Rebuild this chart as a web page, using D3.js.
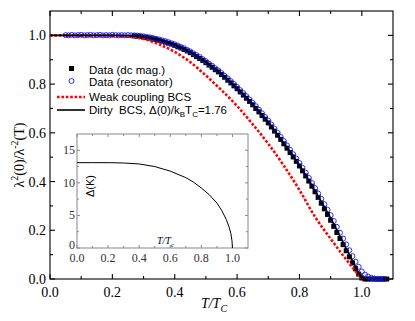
<!DOCTYPE html>
<html>
<head>
<meta charset="utf-8">
<script src="https://cdn.jsdelivr.net/npm/d3@7"></script>
<style>
  body { margin: 0; background: #fff; }
  svg { display: block; }
  .tick-label { font-family: "Liberation Serif", "Times New Roman", serif; }
  .legend { font-family: "Liberation Sans", Arial, sans-serif; font-size: 11.5px; }
</style>
</head>
<body>
<div id="chart"></div>
<script>
// Superfluid density vs reduced temperature

// main axes ticks
const xTicks = [0.0, 0.2, 0.4, 0.6, 0.8, 1.0];
const yTicks = [0.0, 0.2, 0.4, 0.6, 0.8, 1.0];

// dirty BCS curve [T/Tc, rho]
const dirtyBCS = [
  [0.00, 1.000], [0.10, 1.000], [0.20, 1.000], [0.25, 0.999], [0.30, 0.993],
  [0.35, 0.981], [0.40, 0.960], [0.45, 0.930], [0.50, 0.889], [0.55, 0.840],
  [0.60, 0.782], [0.65, 0.716], [0.70, 0.642], [0.75, 0.556], [0.80, 0.466],
  [0.85, 0.362], [0.90, 0.250], [0.95, 0.125], [0.98, 0.050], [1.00, 0.000]
];

// weak coupling (clean) BCS curve
const weakBCS = [
  [0.00, 1.000], [0.10, 1.000], [0.20, 0.999], [0.25, 0.996], [0.30, 0.985],
  [0.35, 0.963], [0.40, 0.932], [0.45, 0.890], [0.50, 0.835], [0.55, 0.775],
  [0.60, 0.710], [0.65, 0.635], [0.70, 0.555], [0.75, 0.465], [0.80, 0.365],
  [0.85, 0.255], [0.90, 0.165], [0.95, 0.080], [1.00, 0.000]
];

// Data (dc mag.)
const dcMag = [
  [0.27, 0.998], [0.28, 0.997], [0.29, 0.995], [0.30, 0.993], [0.31, 0.991],
  [0.32, 0.989], [0.33, 0.986], [0.34, 0.983], [0.35, 0.980], [0.36, 0.976],
  [0.37, 0.972], [0.38, 0.968], [0.39, 0.964], [0.40, 0.959], [0.41, 0.953],
  [0.42, 0.948], [0.43, 0.942], [0.44, 0.936], [0.45, 0.929], [0.46, 0.921],
  [0.47, 0.913], [0.48, 0.905], [0.49, 0.897], [0.50, 0.888], [0.51, 0.878],
  [0.52, 0.869], [0.53, 0.859], [0.54, 0.850], [0.55, 0.839], [0.56, 0.828],
  [0.57, 0.816], [0.58, 0.805], [0.59, 0.793], [0.60, 0.781], [0.61, 0.768],
  [0.62, 0.755], [0.63, 0.742], [0.64, 0.729], [0.65, 0.715], [0.66, 0.700],
  [0.67, 0.686], [0.68, 0.671], [0.69, 0.656], [0.70, 0.641], [0.71, 0.624],
  [0.72, 0.607], [0.73, 0.590], [0.74, 0.573], [0.75, 0.555], [0.76, 0.537],
  [0.77, 0.519], [0.78, 0.501], [0.79, 0.483], [0.80, 0.464], [0.81, 0.444],
  [0.82, 0.423], [0.83, 0.402], [0.84, 0.381], [0.85, 0.358], [0.86, 0.335],
  [0.87, 0.311], [0.88, 0.288], [0.89, 0.265], [0.90, 0.241], [0.91, 0.216],
  [0.92, 0.191], [0.93, 0.166], [0.94, 0.141], [0.95, 0.116], [0.96, 0.091],
  [0.97, 0.066], [0.98, 0.042], [0.99, 0.020], [1.00, 0.004], [1.01, 0.000],
  [1.02, 0.000], [1.03, 0.000], [1.04, 0.000], [1.05, 0.000], [1.06, 0.000],
  [1.07, 0.000], [1.08, 0.000]
];

// Data (resonator)
const resonator = [
  [0.05, 1.001], [0.06, 1.000], [0.07, 1.002], [0.08, 1.000], [0.09, 1.001],
  [0.10, 1.002], [0.11, 1.000], [0.12, 1.001], [0.13, 1.002], [0.14, 1.000],
  [0.15, 1.001], [0.16, 1.002], [0.17, 1.000], [0.18, 1.001], [0.19, 1.000],
  [0.20, 1.002], [0.21, 1.001], [0.22, 1.000], [0.23, 1.001], [0.24, 1.000],
  [0.25, 1.001], [0.26, 1.000], [0.27, 1.000], [0.28, 0.999], [0.29, 0.998],
  [0.30, 0.996], [0.31, 0.994], [0.32, 0.992], [0.33, 0.989], [0.34, 0.986],
  [0.35, 0.983], [0.36, 0.979], [0.37, 0.976], [0.38, 0.972], [0.39, 0.967],
  [0.40, 0.963], [0.41, 0.958], [0.42, 0.952], [0.43, 0.947], [0.44, 0.940],
  [0.45, 0.934], [0.46, 0.926], [0.47, 0.919], [0.48, 0.911], [0.49, 0.902],
  [0.50, 0.894], [0.51, 0.884], [0.52, 0.875], [0.53, 0.865], [0.54, 0.856],
  [0.55, 0.845], [0.56, 0.834], [0.57, 0.823], [0.58, 0.812], [0.59, 0.800],
  [0.60, 0.788], [0.61, 0.775], [0.62, 0.763], [0.63, 0.750], [0.64, 0.737],
  [0.65, 0.723], [0.66, 0.709], [0.67, 0.695], [0.68, 0.680], [0.69, 0.665],
  [0.70, 0.650], [0.71, 0.634], [0.72, 0.617], [0.73, 0.600], [0.74, 0.583],
  [0.75, 0.566], [0.76, 0.548], [0.77, 0.530], [0.78, 0.512], [0.79, 0.494],
  [0.80, 0.476], [0.81, 0.456], [0.82, 0.436], [0.83, 0.415], [0.84, 0.394],
  [0.85, 0.373], [0.86, 0.351], [0.87, 0.329], [0.88, 0.307], [0.89, 0.284],
  [0.90, 0.262], [0.91, 0.238], [0.92, 0.214], [0.93, 0.190], [0.94, 0.166],
  [0.95, 0.142], [0.96, 0.118], [0.97, 0.094], [0.98, 0.071], [0.99, 0.050],
  [1.00, 0.031], [1.01, 0.018], [1.02, 0.010], [1.03, 0.005], [1.04, 0.002],
  [1.05, 0.001], [1.06, 0.000], [1.07, 0.000]
];

// inset: gap Delta(K) vs T/Tc
const insetXTicks = [0.0, 0.2, 0.4, 0.6, 0.8, 1.0];
const insetYTicks = [0, 5, 10, 15];
const gapCurve = [
  [0.00, 13.10], [0.10, 13.10], [0.20, 13.10], [0.30, 13.05], [0.40, 12.90],
  [0.50, 12.50], [0.60, 11.80], [0.70, 10.80], [0.75, 10.10], [0.80, 9.20],
  [0.85, 8.20], [0.90, 6.90], [0.93, 5.80], [0.96, 4.40], [0.98, 3.10],
  [0.99, 2.20], [0.997, 1.10], [1.00, 0.00]
];

const W = 415, H = 321;
const svg = d3.select('#chart').append('svg')
  .attr('width', W).attr('height', H);

// main plot frame
const P = {left: 50, right: 393, top: 11, bottom: 279};
const x = d3.scaleLinear().domain([0, 1.1]).range([P.left, P.right]);
const y = d3.scaleLinear().domain([0, 1.1]).range([P.bottom, P.top]);

// draw inward ticks on all four sides
function frameTicks(g, xs, ys, xMajor, xMinor, yMajor, yMinor, box, majLen, minLen, color, width) {
  const add = (x1, y1, x2, y2) => g.append('line')
    .attr('x1', x1).attr('y1', y1).attr('x2', x2).attr('y2', y2)
    .attr('stroke', color).attr('stroke-width', width);
  xMinor.forEach(v => { add(xs(v), box.bottom, xs(v), box.bottom - minLen); add(xs(v), box.top, xs(v), box.top + minLen); });
  xMajor.forEach(v => { add(xs(v), box.bottom, xs(v), box.bottom - majLen); add(xs(v), box.top, xs(v), box.top + majLen); });
  yMinor.forEach(v => { add(box.left, ys(v), box.left + minLen, ys(v)); add(box.right, ys(v), box.right - minLen, ys(v)); });
  yMajor.forEach(v => { add(box.left, ys(v), box.left + majLen, ys(v)); add(box.right, ys(v), box.right - majLen, ys(v)); });
  g.append('rect')
    .attr('x', box.left).attr('y', box.top)
    .attr('width', box.right - box.left).attr('height', box.bottom - box.top)
    .attr('fill', 'none').attr('stroke', color).attr('stroke-width', width);
}

const mainAxes = svg.append('g');
frameTicks(mainAxes, x, y, xTicks, [0.1, 0.3, 0.5, 0.7, 0.9], yTicks, [0.1, 0.3, 0.5, 0.7, 0.9], P, 5, 3, '#000', 1.1);

mainAxes.selectAll('.xl').data(xTicks).enter().append('text')
  .attr('class', 'tick-label')
  .attr('x', d => x(d)).attr('y', P.bottom + 18)
  .attr('text-anchor', 'middle').style('font-size', '14px')
  .text(d => d.toFixed(1));

mainAxes.selectAll('.yl').data(yTicks).enter().append('text')
  .attr('class', 'tick-label')
  .attr('x', P.left - 4).attr('y', d => y(d) + 5)
  .attr('text-anchor', 'end').style('font-size', '14px')
  .text(d => d.toFixed(1));

// axis titles
const xTitle = svg.append('text')
  .attr('class', 'tick-label')
  .attr('x', 214).attr('y', 308)
  .attr('text-anchor', 'middle')
  .style('font-size', '14px').style('font-style', 'italic');
xTitle.append('tspan').text('T/T');
xTitle.append('tspan').attr('dy', 4).style('font-size', '10px').text('C');

const yTitle = svg.append('text')
  .attr('class', 'tick-label')
  .attr('transform', 'translate(24,155) rotate(-90)')
  .attr('text-anchor', 'middle')
  .style('font-size', '14px');
yTitle.append('tspan').text('λ');
yTitle.append('tspan').attr('dy', -6).style('font-size', '10px').text('2');
yTitle.append('tspan').attr('dy', 6).text('(0)/λ');
yTitle.append('tspan').attr('dy', -6).style('font-size', '10px').text('-2');
yTitle.append('tspan').attr('dy', 6).text('(T)');

// inset
const I = {left: 77, right: 248, top: 134, bottom: 248};
const ix = d3.scaleLinear().domain([0, 1.1]).range([I.left, I.right]);
const iy = d3.scaleLinear().domain([0, 17.5]).range([I.bottom, I.top]);

const inset = svg.append('g');
inset.append('rect')
  .attr('x', I.left).attr('y', I.top)
  .attr('width', I.right - I.left).attr('height', I.bottom - I.top)
  .attr('fill', '#fff');
frameTicks(inset, ix, iy, insetXTicks, [0.1, 0.3, 0.5, 0.7, 0.9], insetYTicks, [2.5, 7.5, 12.5], I, 3, 2, '#888', 1);

inset.selectAll('.ixl').data(insetXTicks).enter().append('text')
  .attr('class', 'tick-label')
  .attr('x', d => ix(d)).attr('y', I.bottom + 14)
  .attr('text-anchor', 'middle').style('font-size', '12px').attr('fill', '#333')
  .text(d => d.toFixed(1));

inset.selectAll('.iyl').data(insetYTicks).enter().append('text')
  .attr('class', 'tick-label')
  .attr('x', I.left - 2).attr('y', d => iy(d) + (d === 0 ? 1 : 4))
  .attr('text-anchor', 'end').style('font-size', '12px').attr('fill', '#333')
  .text(d => d);

inset.append('text')
  .attr('transform', 'translate(94,186) rotate(-90)')
  .attr('text-anchor', 'middle')
  .style('font-family', '"Liberation Sans", Arial, sans-serif')
  .style('font-size', '11px')
  .text('Δ(K)');

const iTitle = inset.append('text')
  .attr('class', 'tick-label')
  .attr('x', 157).attr('y', 244)
  .style('font-size', '10px').style('font-style', 'italic');
iTitle.append('tspan').text('T/T');
iTitle.append('tspan').attr('dy', 3).style('font-size', '7px').text('c');

inset.append('path')
  .datum(gapCurve)
  .attr('d', d3.line().x(d => ix(d[0])).y(d => iy(d[1])))
  .attr('fill', 'none').attr('stroke', '#000').attr('stroke-width', 1);

// data markers
const marks = svg.append('g');
marks.selectAll('.sq').data(dcMag).enter().append('rect')
  .attr('x', d => x(d[0]) - 2.5).attr('y', d => y(d[1]) - 2.5)
  .attr('width', 5).attr('height', 5)
  .attr('fill', '#000');

marks.selectAll('.ci').data(resonator).enter().append('circle')
  .attr('cx', d => x(d[0])).attr('cy', d => y(d[1]))
  .attr('r', 2.5)
  .attr('fill', 'none').attr('stroke', '#1a1aff').attr('stroke-width', 0.9);

// model curves
const line = d3.line().x(d => x(d[0])).y(d => y(d[1])).curve(d3.curveMonotoneX);
svg.append('path').datum(weakBCS)
  .attr('d', line)
  .attr('fill', 'none').attr('stroke', '#ff0000')
  .attr('stroke-width', 2.6).attr('stroke-dasharray', '2.6,1.8');
svg.append('path').datum(dirtyBCS)
  .attr('d', line)
  .attr('fill', 'none').attr('stroke', '#000').attr('stroke-width', 1.6);

// legend
const lg = svg.append('g').attr('class', 'legend');
lg.append('rect').attr('x', 69).attr('y', 66).attr('width', 5).attr('height', 5).attr('fill', '#000');
lg.append('text').attr('x', 89).attr('y', 74).text('Data (dc mag.)');
lg.append('circle').attr('cx', 71.5).attr('cy', 81).attr('r', 2.5)
  .attr('fill', 'none').attr('stroke', '#1a1aff').attr('stroke-width', 0.9);
lg.append('text').attr('x', 89).attr('y', 86).text('Data (resonator)');
lg.append('line').attr('x1', 57).attr('x2', 85).attr('y1', 97).attr('y2', 97)
  .attr('stroke', '#ff0000').attr('stroke-width', 2.6).attr('stroke-dasharray', '2.6,1.8');
lg.append('text').attr('x', 89).attr('y', 101).text('Weak coupling BCS');
lg.append('line').attr('x1', 57).attr('x2', 85).attr('y1', 110).attr('y2', 110)
  .attr('stroke', '#000').attr('stroke-width', 1.6);
const dl = lg.append('text').attr('x', 89).attr('y', 114).attr('xml:space', 'preserve');
dl.append('tspan').text('Dirty  BCS, Δ(0)/k');
dl.append('tspan').attr('dy', 3).style('font-size', '8px').text('B');
dl.append('tspan').attr('dy', -3).text('T');
dl.append('tspan').attr('dy', 3).style('font-size', '8px').text('C');
dl.append('tspan').attr('dy', -3).text('=1.76');
</script>
</body>
</html>
